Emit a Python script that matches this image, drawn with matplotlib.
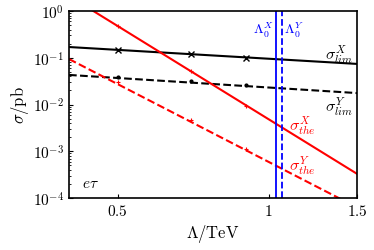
import numpy as np
import matplotlib
matplotlib.use('Agg')
import matplotlib.pyplot as plt

plt.rcParams['mathtext.fontset'] = 'cm'
plt.rcParams['font.family'] = 'serif'
plt.rcParams['font.serif'] = ['DejaVu Serif']

# line end points (Lambda in TeV, sigma in pb)
lam_line = [0.4, 1.5]
lim_x = [0.17, 0.074]
lim_y = [0.043, 0.0176]
lam_the_x = [0.4, 1.5]
the_x = [2.1, 3.3e-4]
lam_the_y = [0.4, 1.5]
the_y = [0.094, 6.3e-5]

# computed points (markers)
lam_pts = [0.5, 0.7, 0.9]
lim_x_pts = [0.148, 0.12, 0.101]
lim_y_pts = [0.039, 0.032, 0.026]
the_x_pts = [0.48, 0.052, 0.0093]
the_y_pts = [0.030, 0.0046, 0.0011]

lam0_x = 1.034
lam0_y = 1.063

fig = plt.figure(figsize=(3.74, 2.51), dpi=100)
ax = fig.add_axes([0.1845, 0.207, 0.77, 0.745])

ax.plot(lam_line, lim_x, color='black', lw=1.5)
ax.plot(lam_line, lim_y, color='black', lw=1.5, ls='--')
ax.plot(lam_the_x, the_x, color='red', lw=1.5)
ax.plot(lam_the_y, the_y, color='red', lw=1.5, ls='--')
ax.plot(lam_pts, lim_x_pts, 'x', color='black', ms=4, mew=1)
ax.plot(lam_pts, lim_y_pts, '.', color='black', ms=4)
ax.plot(lam_pts, the_x_pts, '+', color='red', ms=3, mew=0.8)
ax.plot(lam_pts, the_y_pts, '+', color='red', ms=3, mew=0.8)

ax.axvline(lam0_x, color='blue', lw=1.3)
ax.axvline(lam0_y, color='blue', lw=1.3, ls='--')

ax.set_xscale('log')
ax.set_yscale('log')
ax.set_xlim(0.4, 1.5)
ax.set_ylim(1e-4, 1)
ax.set_xticks([0.5, 1, 1.5])
ax.set_xticklabels(['$0.5$', '$1$', '$1.5$'])
ax.xaxis.set_minor_locator(matplotlib.ticker.NullLocator())
ax.set_yticks([1e-4, 1e-3, 1e-2, 1e-1, 1])
ax.set_yticklabels(['$10^{-4}$', '$10^{-3}$', '$10^{-2}$', '$10^{-1}$', '$10^{0}$'])
ax.tick_params(which='both', direction='in', labelsize=11)
ax.tick_params(which='major', length=3)
ax.tick_params(which='minor', length=1.5)
for s in ax.spines.values():
    s.set_linewidth(1.2)

ax.set_xlabel(r'$\Lambda/\mathrm{TeV}$', fontsize=12, labelpad=3)
ax.set_ylabel(r'$\sigma/\mathrm{pb}$', fontsize=12, labelpad=1)

ax.text(1.38, 0.12, r'$\sigma^X_{lim}$', fontsize=11.5, ha='center', va='center')
ax.text(1.38, 0.0093, r'$\sigma^Y_{lim}$', fontsize=11.5, ha='center', va='center')
ax.text(1.10, 0.0038, r'$\sigma^X_{the}$', fontsize=11.5, ha='left', va='center', color='red')
ax.text(1.10, 5.3e-4, r'$\sigma^Y_{the}$', fontsize=11.5, ha='left', va='center', color='red')
ax.text(1.022, 0.41, r'$\Lambda^X_0$', fontsize=10, ha='right', va='center', color='blue')
ax.text(1.075, 0.41, r'$\Lambda^Y_0$', fontsize=10, ha='left', va='center', color='blue')
ax.text(0.425, 1.45e-4, r'$e\tau$', fontsize=11, ha='left', va='bottom')

fig.savefig('out.png', dpi=100)
